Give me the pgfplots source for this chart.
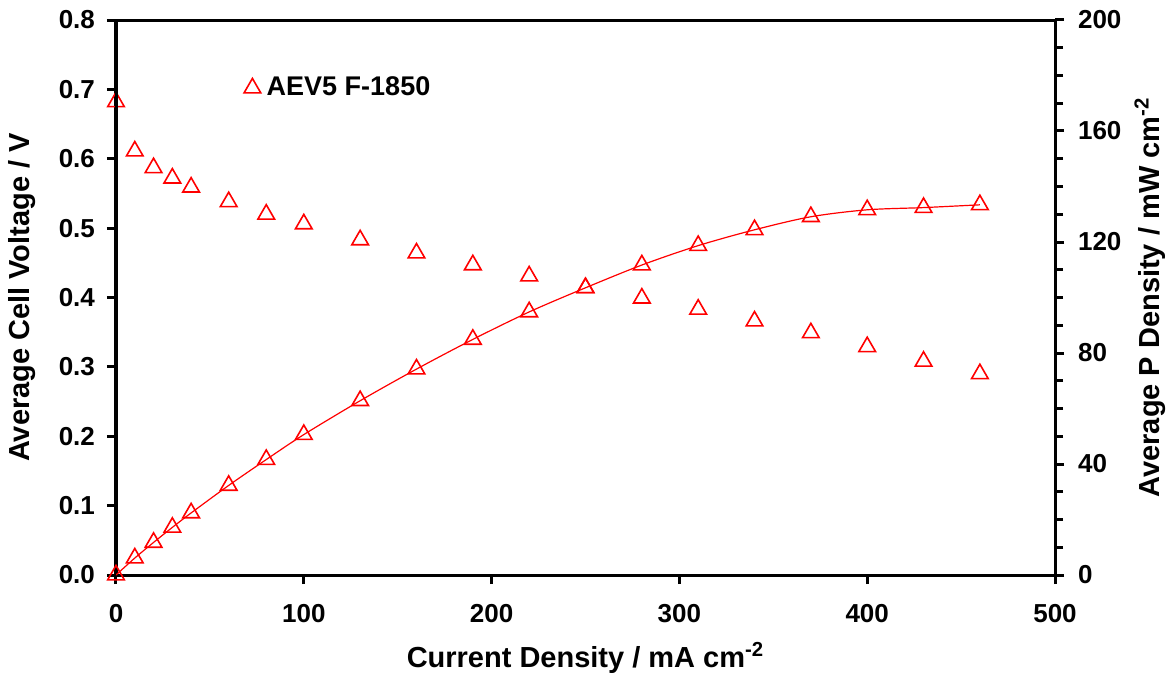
\documentclass[border=0pt]{standalone}
\usepackage{pgfplots}
\pgfplotsset{compat=1.18}
\usepackage{fontspec}
\setmainfont{Liberation Sans}
\begin{document}
\begin{tikzpicture}
\pgfplotsset{
  every axis/.append style={
    width=469.5pt, height=277.5pt, scale only axis,
    xmin=0, xmax=500,
    axis line style={line width=1.5pt},
    tick style={line width=1.5pt, black},
    major tick length=4.5pt, minor tick length=4pt,
    tick align=outside,
    tick label style={font=\bfseries\fontsize{13}{15}\selectfont},
    label style={font=\bfseries\fontsize{14.5}{16}\selectfont},
    /pgf/number format/assume math mode=true,
  },
}
\begin{axis}[
  ymin=0, ymax=0.8,
  xtick={0,100,...,500}, ytick={0,0.1,...,0.8},
  xtick pos=bottom, ytick pos=left,
  yticklabel style={/pgf/number format/fixed, /pgf/number format/precision=1, /pgf/number format/fixed zerofill, xshift=-2.5pt},
  xticklabel style={yshift=-6.5pt},
  xlabel={Current Density / mA cm\textsuperscript{-2}},
  ylabel={Average Cell Voltage / V},
  xlabel style={at={(axis description cs:0.5,-0.1495)}, anchor=center},
  ylabel style={at={(axis description cs:-0.1,0.5)}, anchor=center},
  legend style={at={(axis cs:68,0.702)}, anchor=west, draw=none, fill=none,
    font=\bfseries\fontsize{13.5}{15}\selectfont, inner sep=0pt,
    nodes={inner xsep=3pt}},
  legend image code/.code={\draw[mark repeat=2, mark phase=2] plot coordinates {(0pt,0pt)(4pt,0pt)(8pt,0pt)};},
  legend cell align=left,
]
\addplot[only marks, red, mark=triangle, mark size=4.8pt, mark options={line width=0.8pt}] coordinates {
(0,0.682) (10,0.611) (20,0.587) (30,0.572) (40,0.559) (60,0.538) (80,0.520) (100,0.506)
(130,0.483) (160,0.464) (190,0.447) (220,0.431) (250,0.414) (280,0.399) (310,0.383)
(340,0.366) (370,0.349) (400,0.329) (430,0.308) (460,0.290)};
\addlegendentry{AEV5 F-1850}
\end{axis}
\begin{axis}[
  ymin=0, ymax=200,
  ytick={0,40,...,200}, minor y tick num=3,
  ytick pos=right, yticklabel pos=right,
  yticklabel style={xshift=3.5pt},
  hide x axis,
  ylabel={Average P Density / mW cm\textsuperscript{-2}},
  ylabel style={at={(axis description cs:1.101,0.5)}, anchor=center},
]
\addplot[red, line width=0.6pt, smooth, mark=triangle, mark size=4.8pt, mark options={line width=0.8pt, solid}] coordinates {
(0,0) (10,6.11) (20,11.74) (30,17.16) (40,22.36) (60,32.28) (80,41.6) (100,50.6)
(130,62.8) (160,74.2) (190,84.9) (220,94.8) (250,103.5) (280,111.7) (310,118.7)
(340,124.4) (370,129.1) (400,131.6) (430,132.4) (460,133.4)};
\end{axis}
\pgfresetboundingbox
\path ([xshift=-58pt,yshift=-50pt]current axis.south west) rectangle ([xshift=59.5pt,yshift=10pt]current axis.north east);
\end{tikzpicture}
\end{document}
